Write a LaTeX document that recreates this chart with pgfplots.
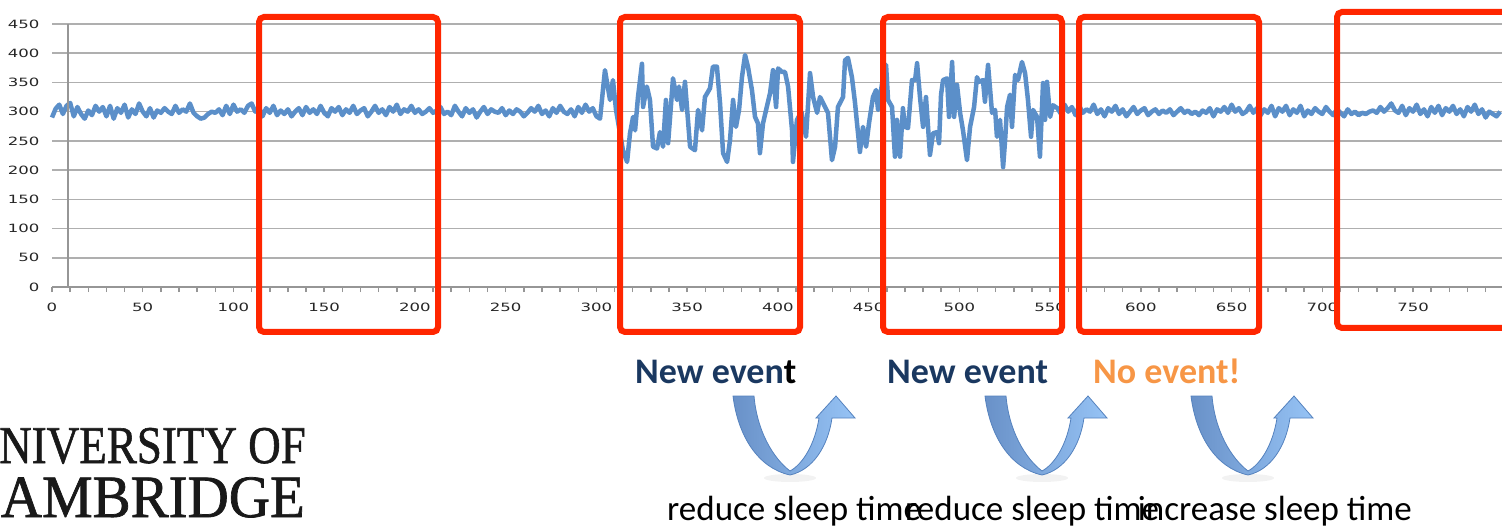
\documentclass[border=0pt]{standalone}
\usepackage{fontspec}
\setmainfont{Carlito}
\newfontfamily\dejavu{DejaVu Sans}
\newfontfamily\logofont[FakeBold=1.2]{Liberation Serif}
\usepackage{pgfplots}
\pgfplotsset{compat=1.18}
\definecolor{lineblue}{RGB}{91,143,201}
\definecolor{gridgray}{RGB}{175,175,175}
\definecolor{axisgray}{RGB}{150,150,150}
\definecolor{redbox}{RGB}{255,38,0}
\definecolor{navy}{RGB}{26,56,96}
\definecolor{evorange}{RGB}{247,150,70}
\definecolor{arrowL}{RGB}{105,145,200}
\definecolor{arrowR}{RGB}{150,195,245}
\definecolor{arrowEdge}{RGB}{85,130,190}
\newcommand\uarrow[1]{%
\begin{scope}[shift={(#1pt,132pt)}, x=1pt, y=-1pt]
\fill[black!5] (57,82) ellipse (26pt and 4pt);
\shade[left color=arrowL, right color=arrowR, draw=arrowEdge, line width=0.8pt]
(0,0) .. controls (5,40) and (25,72) .. (57,79)
 .. controls (80,74) and (95,50) .. (99,22)
 -- (122,22) -- (103,0) -- (83,22) -- (86,22)
 .. controls (82,48) and (70,68) .. (57,75)
 .. controls (40,62) and (24,35) .. (21,0) -- cycle;
\end{scope}}
\begin{document}
\begin{tikzpicture}
\useasboundingbox (0,0) rectangle (1502pt,528pt);
\clip (0,0) rectangle (1502pt,528pt);
\begin{axis}[
  at={(52pt,241pt)}, anchor=south west,
  scale only axis, width=1450pt, height=263pt,
  xmin=0, xmax=799, ymin=0, ymax=450,
  axis x line*=bottom, axis y line*=left,
  y axis line style={draw=none},
  x axis line style={axisgray, line width=2pt},
  xtick={0,50,...,750}, minor xtick={10,20,...,790},
  ytick={0,50,...,450},
  tick align=outside,
  major tick length=5pt, minor tick length=5pt,
  x tick style={axisgray, line width=1.5pt},
  minor x tick style={axisgray, line width=1.5pt},
  y tick style={draw=none},
  ymajorgrids, grid style={gridgray, line width=1.5pt},
  /pgf/number format/assume math mode=true,
  xticklabel style={font=\dejavu\fontsize{11.4}{12}\selectfont, xscale=1.45, inner sep=0pt, anchor=north, yshift=-11pt, text=black!85},
  yticklabel style={font=\dejavu\fontsize{11.4}{12}\selectfont, xscale=1.45, inner sep=0pt, anchor=east, xshift=-5pt, text=black!85},
  clip=false,
]
\addplot[lineblue, line width=4.5pt, line join=round] coordinates {
(0,290) (2,305) (4,312) (6,296) (8,310) (10,315) (12,292) (14,308) (16,296) (18,288)
(20,302) (22,294) (24,310) (26,300) (28,308) (30,292) (32,310) (34,288) (36,306) (38,298)
(40,312) (42,290) (44,304) (46,296) (48,314) (50,300) (52,292) (54,306) (56,290) (58,302)
(60,298) (62,306) (64,300) (66,296) (68,310) (70,298) (72,304) (74,300) (76,314) (78,298)
(80,292) (82,288) (84,290) (86,296) (88,300) (90,298) (92,304) (94,294) (96,310) (98,296)
(100,312) (102,300) (104,304) (106,298) (108,310) (110,314) (112,300) (114,308) (116,292) (118,306)
(120,298) (122,310) (124,294) (126,302) (128,296) (130,304) (132,292) (134,300) (136,306) (138,294)
(140,308) (142,298) (144,304) (146,296) (148,310) (150,298) (152,292) (154,306) (156,300) (158,308)
(160,294) (162,304) (164,298) (166,310) (168,296) (170,302) (172,306) (174,292) (176,300) (178,310)
(180,298) (182,304) (184,294) (186,308) (188,300) (190,312) (192,296) (194,304) (196,300) (198,310)
(200,298) (202,304) (204,296) (206,300) (208,306) (210,298) (212,302) (214,308) (216,296) (218,300)
(220,294) (222,310) (224,300) (226,292) (228,306) (230,298) (232,304) (234,290) (236,300) (238,308)
(240,296) (242,304) (244,300) (246,298) (248,306) (250,294) (252,302) (254,296) (256,304) (258,300)
(260,292) (262,298) (264,306) (266,300) (268,310) (270,296) (272,302) (274,292) (276,306) (278,298)
(280,310) (282,300) (284,296) (286,304) (288,292) (290,308) (292,298) (294,312) (296,300) (298,306)
(300,292) (302,288)
(304.7,371) (307.5,320) (309.1,354) (310.8,303) (314.6,234) (316.9,214) (318.5,263) (320.2,291) (321.3,268) (322.9,325)
(325.1,382) (325.7,308) (327.8,343) (329.5,320) (331.2,240) (333.4,237) (335.0,265) (336.7,240) (338.3,320) (339.5,246)
(342.2,357) (344.4,320) (345.5,343) (347.2,303) (348.8,351) (351.6,240) (354.3,234) (356.0,303) (358.2,268) (359.8,325)
(362.6,340) (364.2,377) (366.4,377) (368.1,315) (369.8,229) (372.0,214) (373.6,251) (375.3,320) (376.9,274) (378.6,303)
(380.2,359) (381.9,397) (383.5,377) (385.7,337) (387.4,291) (389.0,280) (390.1,229) (391.8,280) (393.5,303) (395.7,332)
(397.3,371) (399.0,308) (400.1,374) (402.3,368) (403.9,368) (405.6,343) (407.8,268) (408.3,214) (410.5,286) (413,300)
(415.5,257) (417.7,366) (419.4,325) (421.6,298) (423.2,325) (426.0,308) (427.6,298) (429.8,217) (431.5,240) (433.1,308)
(435.9,325) (437.0,388) (438.6,392) (440.8,359) (442.5,315) (443.6,280) (445.2,231) (446.9,274) (448.6,240) (450.2,280)
(452.4,325) (454.1,337) (455.2,303) (457.5,350) (459.6,380) (460.7,320) (462.9,308) (464.5,223) (465.6,286) (467.3,223)
(468.9,306) (470.0,274) (471.7,272) (473.9,354) (475.6,354) (476.7,383) (478.3,325) (480.0,274) (481.6,325) (483.8,226)
(485.5,263) (487.7,265) (488.8,246) (489.9,329) (491.0,354) (493.2,357) (494.3,291) (496.0,385) (497.1,291) (498.7,346)
(500.4,298) (502.0,268) (504.2,217) (505.9,274) (508.1,308) (509.7,359) (510.8,351) (513.0,354) (514.1,317) (515.8,380)
(518.0,298) (519.7,303) (520.7,257) (522.4,286) (524.1,205) (525.2,251) (526.3,308) (527.9,329) (529.0,274) (530.7,363)
(532.3,354) (534.5,385) (536.2,366) (537.8,320) (539.5,257) (540.6,303) (542.8,291) (544.4,223) (546.1,349) (547.2,286)
(548.3,351) (550.0,291) (551.6,311)
(554,306) (556,296) (558,312) (560,300) (562,308) (564,294) (566,310) (568,298) (570,304) (572,300)
(574,312) (576,296) (578,304) (580,292) (582,306) (584,300) (586,310) (588,296) (590,304) (592,292)
(594,300) (596,308) (598,296) (600,302) (602,306) (604,294) (606,300) (608,304) (610,296) (612,302)
(614,298) (616,304) (618,294) (620,300) (622,306) (624,298) (626,302) (628,296) (630,300) (632,294)
(634,302) (636,298) (638,306) (640,292) (642,304) (644,300) (646,308) (648,298) (650,312) (652,300)
(654,306) (656,296) (658,300) (660,310) (662,298) (664,306) (666,294) (668,304) (670,298) (672,310)
(674,292) (676,306) (678,300) (680,310) (682,294) (684,304) (686,298) (688,310) (690,292) (692,302)
(694,296) (696,306) (698,300) (700,296) (702,308) (704,300) (706,294) (708,304) (710,298) (712,292)
(714,304) (716,296) (718,300) (720,294) (722,298) (724,296) (726,300) (728,302) (730,298) (732,308)
(734,300) (736,306) (738,314) (740,302) (742,298) (744,310) (746,294) (748,306) (750,300) (752,312)
(754,296) (756,304) (758,292) (760,308) (762,298) (764,310) (766,294) (768,306) (770,300) (772,310)
(774,296) (776,304) (778,292) (780,308) (782,300) (784,312) (786,296) (788,304) (790,290) (792,300)
(794,296) (796,292) (798,300)
};
\draw[axisgray, line width=2pt] (axis cs:8.8,0) -- (axis cs:8.8,450);
\end{axis}
\begin{scope}[x=1pt, y=1pt]
% event labels
\node[anchor=base west, inner sep=0pt, font=\bfseries\fontsize{36}{40}\selectfont] at (635,145) {\textcolor{navy}{New even}\textcolor{black}{t}};
\node[anchor=base west, inner sep=0pt, font=\bfseries\fontsize{36}{40}\selectfont, text=navy] at (887,145) {New event};
\node[anchor=base west, inner sep=0pt, font=\bfseries\fontsize{36}{40}\selectfont, text=evorange] at (1093,145) {No event!};
% arrows
\uarrow{733}
\uarrow{985}
\uarrow{1191}
% bottom texts
\node[anchor=base west, inner sep=0pt, font=\fontsize{35}{40}\selectfont] at (667,8) {reduce sleep time};
\node[anchor=base west, inner sep=0pt, font=\fontsize{35}{40}\selectfont] at (905,8) {reduce sleep time};
\node[anchor=base east, inner sep=0pt, font=\fontsize{35}{40}\selectfont] at (1412,8) {increase sleep time};
% logo
\node[anchor=base east, inner sep=0pt, font=\logofont\fontsize{53}{56}\selectfont, xscale=0.85, text=black!90] at (306,65) {UNIVERSITY OF};
\node[anchor=base east, inner sep=0pt, font=\logofont\fontsize{60}{64}\selectfont, xscale=0.95, text=black!90] at (305,11) {CAMBRIDGE};
% red boxes
\begin{scope}[redbox, line width=6pt, rounded corners=5pt]
\draw (259,511) rectangle (438,196);
\draw (620,511) rectangle (800,196);
\draw (883,511) rectangle (1062,196);
\draw (1079,511) rectangle (1259,196);
\draw (1337,516) rectangle (1540,200);
\end{scope}
\end{scope}
\end{tikzpicture}
\end{document}
